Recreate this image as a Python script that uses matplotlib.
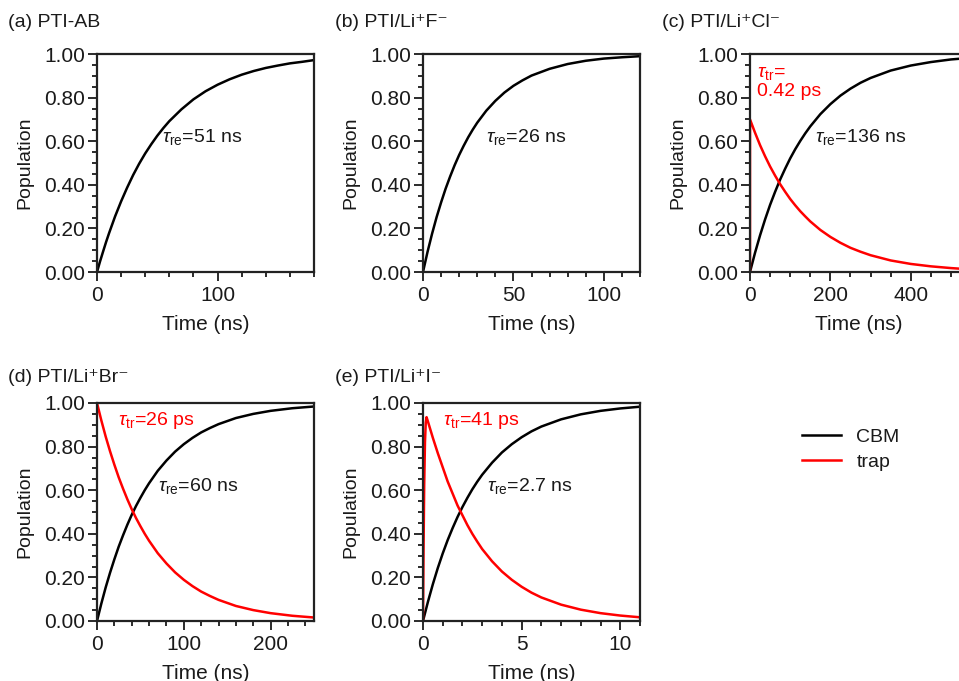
#!/usr/bin/env python
# -*- coding:utf-8 -*-

import matplotlib
matplotlib.use("Agg")
import matplotlib.pyplot as plt
from matplotlib.lines import Line2D
from matplotlib.ticker import MultipleLocator, FormatStrFormatter

plt.rcParams['font.family'] = ['Liberation Sans', 'DejaVu Sans']
plt.rcParams['mathtext.fontset'] = 'custom'
plt.rcParams['mathtext.rm'] = 'Liberation Sans'
plt.rcParams['mathtext.it'] = 'Liberation Sans:italic'
plt.rcParams['mathtext.bf'] = 'Liberation Sans:bold'

# values
# (a) PTI-AB
t_a = [0, 2.5, 5, 7.5, 10, 15, 20, 25, 30, 35, 40, 45, 50, 55, 60, 70, 80, 90,
       100, 110, 120, 130, 140, 150, 160, 170, 180]
cbm_a = [0, 0.048, 0.093, 0.137, 0.178, 0.255, 0.324, 0.387, 0.445, 0.497,
         0.544, 0.586, 0.625, 0.660, 0.692, 0.746, 0.792, 0.829, 0.859, 0.884,
         0.905, 0.922, 0.936, 0.947, 0.957, 0.964, 0.972]

# (b) PTI/Li+F-
t_b = [0, 2.5, 5, 7.5, 10, 12.5, 15, 17.5, 20, 22.5, 25, 27.5, 30, 35, 40, 45,
       50, 55, 60, 70, 80, 90, 100, 110, 120]
cbm_b = [0, 0.092, 0.175, 0.251, 0.319, 0.382, 0.438, 0.490, 0.537, 0.579,
         0.618, 0.653, 0.685, 0.740, 0.785, 0.823, 0.854, 0.879, 0.901, 0.932,
         0.954, 0.969, 0.979, 0.985, 0.990]

# (c) PTI/Li+Cl-
t_c = [0, 12.5, 25, 37.5, 50, 62.5, 75, 87.5, 100, 112.5, 125, 137.5, 150, 175,
       200, 225, 250, 275, 300, 350, 400, 450, 500, 540]
cbm_c = [0, 0.088, 0.168, 0.241, 0.308, 0.368, 0.424, 0.474, 0.521, 0.563,
         0.601, 0.636, 0.668, 0.724, 0.770, 0.809, 0.841, 0.868, 0.890, 0.924,
         0.947, 0.963, 0.975, 0.981]
t_c_trap = [0] + t_c
trap_c = [0, 0.70, 0.639, 0.582, 0.531, 0.484, 0.442, 0.403, 0.368, 0.335,
          0.306, 0.279, 0.255, 0.232, 0.193, 0.161, 0.134, 0.111, 0.093, 0.077,
          0.053, 0.037, 0.026, 0.018, 0.013]

# (d) PTI/Li+Br-
t_d = [0, 5, 10, 15, 20, 25, 30, 35, 40, 45, 50, 55, 60, 70, 80, 90, 100, 110,
       120, 130, 140, 160, 180, 200, 225, 250]
cbm_d = [0, 0.080, 0.154, 0.221, 0.283, 0.341, 0.393, 0.442, 0.487, 0.528,
         0.565, 0.600, 0.632, 0.689, 0.736, 0.777, 0.811, 0.840, 0.865, 0.885,
         0.903, 0.931, 0.950, 0.964, 0.976, 0.984]
trap_d = [1.0, 0.920, 0.846, 0.779, 0.717, 0.659, 0.607, 0.558, 0.513, 0.472,
          0.435, 0.400, 0.368, 0.311, 0.264, 0.223, 0.189, 0.160, 0.135, 0.115,
          0.097, 0.069, 0.050, 0.036, 0.024, 0.016]

# (e) PTI/Li+I-
t_e = [0, 0.25, 0.5, 0.75, 1, 1.25, 1.5, 1.75, 2, 2.25, 2.5, 2.75, 3, 3.5, 4,
       4.5, 5, 5.5, 6, 7, 8, 9, 10, 11]
cbm_e = [0, 0.088, 0.169, 0.243, 0.310, 0.371, 0.426, 0.477, 0.523, 0.565,
         0.604, 0.639, 0.671, 0.726, 0.773, 0.811, 0.843, 0.870, 0.892, 0.925,
         0.948, 0.964, 0.975, 0.983]
t_e_trap = [0, 0.03, 0.06, 0.1, 0.14, 0.18, 0.25, 0.5, 0.75, 1, 1.25, 1.5, 1.75,
            2, 2.25, 2.5, 2.75, 3, 3.5, 4, 4.5, 5, 5.5, 6, 7, 8, 9, 10, 11]
trap_e = [0, 0.35, 0.62, 0.82, 0.91, 0.935, 0.915, 0.84, 0.77, 0.705, 0.64,
          0.585, 0.53, 0.485, 0.44, 0.40, 0.364, 0.33, 0.274, 0.227, 0.189,
          0.157, 0.130, 0.108, 0.075, 0.052, 0.036, 0.025, 0.017]

titles = ['(a) PTI-AB', '(b) PTI/Li\u207aF\u207b', '(c) PTI/Li\u207aCl\u207b',
          '(d) PTI/Li\u207aBr\u207b', '(e) PTI/Li\u207aI\u207b']
xmax = [180, 120, 540, 250, 11]
xmajor = [100, 50, 200, 100, 5]
xminor = [20, 10, 50, 20, 1]

W, H = 959., 681.
fig = plt.figure(figsize=(9.59, 6.81), dpi=100)

# axes boxes in pixels: left, top, right, bottom
boxes = [(97, 54, 314, 272), (423, 54, 640, 272), (750, 54, 967, 272),
         (97, 403, 314, 621), (423, 403, 640, 621)]
title_pos = [(8, 27), (335, 27), (662, 27), (8, 382), (335, 382)]

RED = '#ff0000'
TXT = '#1a1a1a'
FS = 14
FT = 15

axes = []
for i, (l, t, r, b) in enumerate(boxes):
    ax = fig.add_axes([l/W, 1-b/H, (r-l)/W, (b-t)/H])
    ax.set_xlim(0, xmax[i])
    ax.set_ylim(0, 1)
    ax.xaxis.set_major_locator(MultipleLocator(xmajor[i]))
    ax.xaxis.set_minor_locator(MultipleLocator(xminor[i]))
    ax.yaxis.set_major_locator(MultipleLocator(0.2))
    ax.yaxis.set_minor_locator(MultipleLocator(0.05))
    ax.yaxis.set_major_formatter(FormatStrFormatter('%.2f'))
    ax.tick_params(which='both', direction='out', top=False, right=False,
                   labelsize=FT, colors=TXT, width=1.3)
    ax.tick_params(which='major', length=6.5)
    ax.tick_params(which='minor', length=3.5)
    ax.tick_params(axis='y', which='major', pad=2)
    ax.tick_params(axis='x', which='major', pad=3.5)
    for s in ax.spines.values():
        s.set_linewidth(1.6)
        s.set_color('#222222')
    ax.set_xlabel('Time (ns)', fontsize=FT, color=TXT, labelpad=7)
    ax.set_ylabel('Population', fontsize=FS, color=TXT, labelpad=8)
    fig.text(title_pos[i][0]/W, 1-title_pos[i][1]/H, titles[i],
             fontsize=FS, color=TXT, va='baseline', ha='left')
    axes.append(ax)

lw = 1.8
axes[0].plot(t_a, cbm_a, color='black', lw=lw)
axes[1].plot(t_b, cbm_b, color='black', lw=lw)
axes[2].plot(t_c, cbm_c, color='black', lw=lw)
axes[2].plot(t_c_trap, trap_c, color=RED, lw=lw)
axes[3].plot(t_d, cbm_d, color='black', lw=lw)
axes[3].plot(t_d, trap_d, color=RED, lw=lw)
axes[4].plot(t_e, cbm_e, color='black', lw=lw)
axes[4].plot(t_e_trap, trap_e, color=RED, lw=lw)

# annotations
axes[0].text(54, 0.62, r'$\tau_{\rm re}$=51 ns', fontsize=FS, color=TXT, va='center')
axes[1].text(35, 0.62, r'$\tau_{\rm re}$=26 ns', fontsize=FS, color=TXT, va='center')
axes[2].text(162, 0.62, r'$\tau_{\rm re}$=136 ns', fontsize=FS, color=TXT, va='center')
axes[2].text(18, 0.91, r'$\tau_{\rm tr}$=', fontsize=FS, color=RED, va='center')
axes[2].text(18, 0.83, '0.42 ps', fontsize=FS, color=RED, va='center')
axes[3].text(70, 0.62, r'$\tau_{\rm re}$=60 ns', fontsize=FS, color=TXT, va='center')
axes[3].text(24, 0.92, r'$\tau_{\rm tr}$=26 ps', fontsize=FS, color=RED, va='center')
axes[4].text(3.25, 0.62, r'$\tau_{\rm re}$=2.7 ns', fontsize=FS, color=TXT, va='center')
axes[4].text(1.0, 0.92, r'$\tau_{\rm tr}$=41 ps', fontsize=FS, color=RED, va='center')

handles = [Line2D([], [], color='black', lw=lw), Line2D([], [], color=RED, lw=lw)]
fig.legend(handles, ['CBM', 'trap'], loc='upper left',
           bbox_to_anchor=(802/W, 1-428/H), frameon=False, fontsize=FS,
           handlelength=2.0, handletextpad=0.8, borderpad=0, borderaxespad=0,
           labelspacing=0.4, labelcolor=TXT)

fig.savefig('out.png', dpi=100)
